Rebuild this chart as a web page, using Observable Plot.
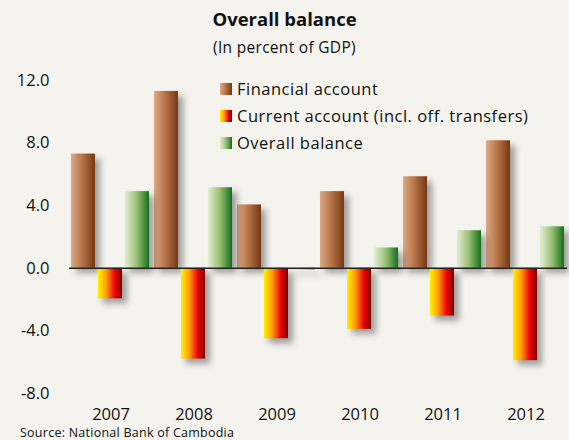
<!DOCTYPE html>
<html>
<head>
<meta charset="utf-8">
<script src="https://cdn.jsdelivr.net/npm/d3@7"></script>
<script src="https://cdn.jsdelivr.net/npm/@observablehq/plot@0.6"></script>
<style>
  html, body { margin: 0; padding: 0; background: #f4f3ee; }
  #wrap { position: relative; width: 569px; height: 440px; overflow: hidden; background: #f4f3ee; font-family: "Open Sans", Lato, sans-serif; color: #111; }
  #title { position: absolute; top: 6px; left: 0; width: 569px; text-align: center; font-weight: bold; font-size: 18.5px; }
  #subtitle { position: absolute; top: 36px; left: 0; width: 569px; text-align: center; font-size: 15.5px; letter-spacing: 0.3px; }
  #chart { position: absolute; top: 0; left: 0; }
  #legend { position: absolute; left: 220px; top: 75px; font-size: 16.5px; line-height: 27px; letter-spacing: 0.5px; }
  #legend div { display: flex; align-items: center; }
  #legend span.sw { display: inline-block; width: 12px; height: 12px; margin-right: 5px; }
  #source { position: absolute; left: 20px; top: 426px; font-size: 12.5px; line-height: 13px; letter-spacing: 0.25px; }
  svg g[aria-label="bar"] rect { filter: drop-shadow(5px 5px 3px rgba(0,0,0,0.35)); }
</style>
</head>
<body>
<div id="wrap">
  <div id="chart"></div>
  <div id="title">Overall balance</div>
  <div id="subtitle">(In percent of GDP)</div>
  <div id="legend"></div>
  <div id="source">Source: National Bank of Cambodia</div>
</div>
<script>
const years = ["2007", "2008", "2009", "2010", "2011", "2012"];
const seriesNames = ["Financial account", "Current account (incl. off. transfers)", "Overall balance"];
const financialAccount = [7.3, 11.3, 4.05, 4.9, 5.85, 8.15];
const currentAccount = [-1.95, -5.8, -4.5, -3.9, -3.05, -5.9];
const overallBalance = [4.9, 5.15, -0.1, 1.3, 2.4, 2.65];
const yTicks = [-8, -4, 0, 4, 8, 12];

const seriesValues = [financialAccount, currentAccount, overallBalance];
const gradIds = ["gFin", "gCur", "gOver"];
const gradStops = [
  [["0%", "#dcab88"], ["45%", "#b8764a"], ["100%", "#763712"]],
  [["0%", "#fff200"], ["35%", "#ff9a00"], ["70%", "#f00000"], ["100%", "#7a0000"]],
  [["0%", "#e3eed4"], ["50%", "#98bf73"], ["100%", "#13701a"]]
];

const data = [];
seriesNames.forEach((s, i) => years.forEach((y, j) => data.push({year: y, series: s, value: seriesValues[i][j], idx: i})));

const defs = () => {
  const ns = "http://www.w3.org/2000/svg";
  const d = document.createElementNS(ns, "defs");
  gradIds.forEach((id, i) => {
    const g = document.createElementNS(ns, "linearGradient");
    g.setAttribute("id", id);
    g.setAttribute("x1", "0"); g.setAttribute("x2", "1"); g.setAttribute("y1", "0"); g.setAttribute("y2", "0");
    gradStops[i].forEach(([o, c]) => {
      const st = document.createElementNS(ns, "stop");
      st.setAttribute("offset", o); st.setAttribute("stop-color", c);
      g.appendChild(st);
    });
    d.appendChild(g);
  });
  return d;
};

const plot = Plot.plot({
  width: 569,
  height: 440,
  marginTop: 80,
  marginBottom: 47,
  marginLeft: 67,
  marginRight: 0,
  style: {background: "transparent", fontFamily: "'Open Sans', Lato, sans-serif", fontSize: "16.5px", color: "#111"},
  fx: {domain: years, padding: 0, label: null, axis: "bottom", tickSize: 0, tickPadding: 15},
  x: {domain: seriesNames, paddingInner: 0.1, paddingOuter: 0.05, axis: null},
  y: {domain: [-8, 12], ticks: yTicks, tickFormat: d => d.toFixed(1), tickSize: 0, tickPadding: 20, label: null},
  marks: [
    defs,
    ...seriesNames.map((s, i) => Plot.barY(data.filter(d => d.idx === i), {fx: "year", x: "series", y: "value", fill: `url(#${gradIds[i]})`})),
    Plot.ruleY([0], {stroke: "#222", strokeWidth: 1.5})
  ]
});
document.getElementById("chart").appendChild(plot);

const legend = document.getElementById("legend");
seriesNames.forEach((s, i) => {
  const row = document.createElement("div");
  const sw = document.createElement("span");
  sw.className = "sw";
  sw.style.background = `linear-gradient(to right, ${gradStops[i].map(([o, c]) => c + " " + o).join(", ")})`;
  row.appendChild(sw);
  row.appendChild(document.createTextNode(s));
  legend.appendChild(row);
});
</script>
</body>
</html>
